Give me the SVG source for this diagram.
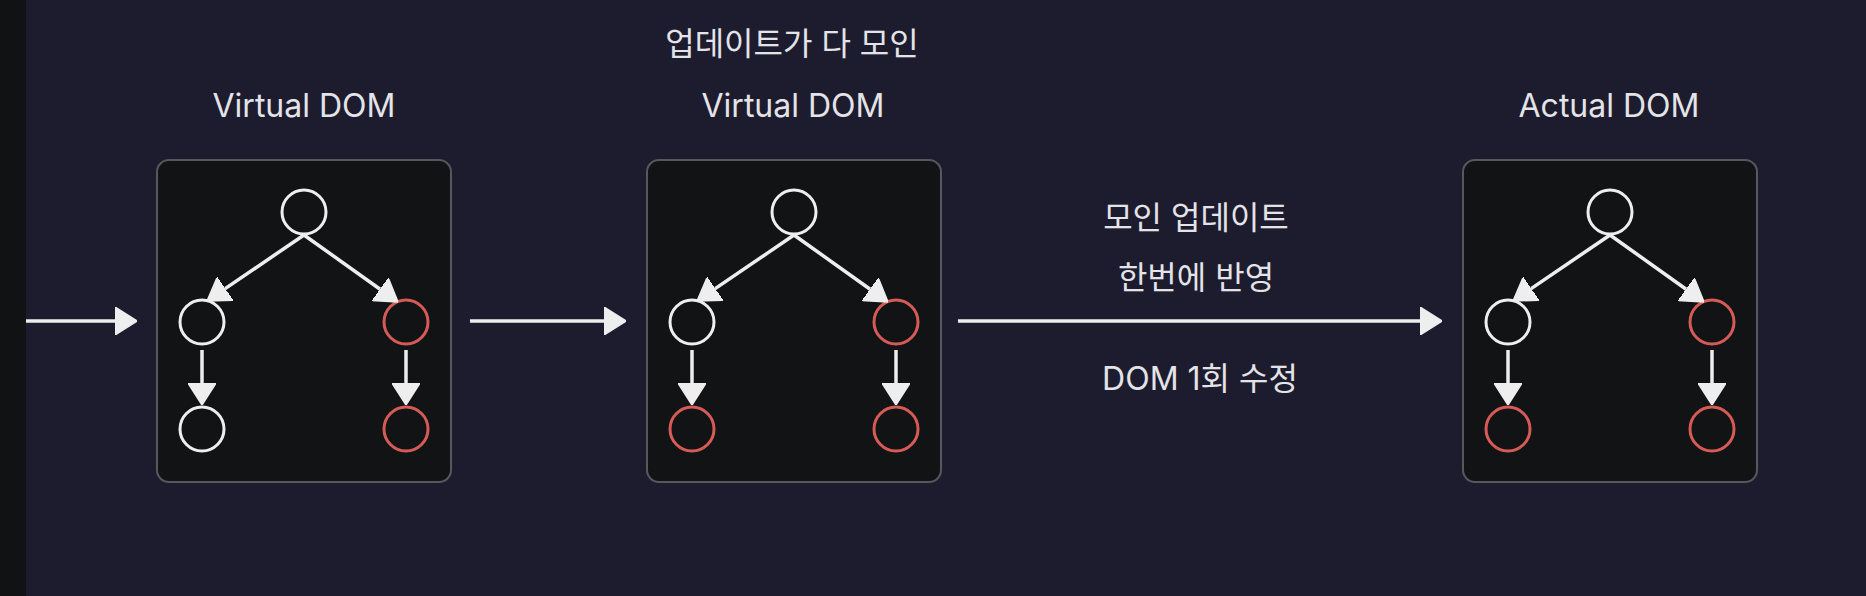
<svg xmlns="http://www.w3.org/2000/svg" width="1866" height="596" viewBox="0 0 1866 596">
  <defs>
    <style>
      .bg { fill: #1d1c2f; }
      .strip { fill: #111214; }
      .panel { fill: #111315; stroke: #57585e; stroke-width: 2; }
      .lbl { font-family: "Inter", "Noto Sans CJK KR", "Noto Sans", sans-serif; font-size: 32px; fill: #e4e4e8; text-anchor: middle; }
      .kr { font-family: "Inter", "Noto Sans CJK KR", sans-serif; font-size: 32px; fill: #e4e4e8; text-anchor: middle; }
      .n { fill: none; stroke-width: 3; }
      .w { stroke: #eeeeee; }
      .r { stroke: #d65b57; }
      .c { fill: none; stroke: #eeeeee; stroke-width: 3.5; marker-end: url(#ah); }
    </style>
    <marker id="ah" viewBox="0 0 22 28" refX="0" refY="14" markerWidth="22" markerHeight="28" markerUnits="userSpaceOnUse" orient="auto">
      <path d="M0,0 L22,14 L0,28 Z" fill="#eeeeee" stroke="#eeeeee" stroke-width="1.5" stroke-linejoin="round"/>
    </marker>
  </defs>

  <rect class="bg" x="0" y="0" width="1866" height="596"/>
  <rect class="strip" x="0" y="0" width="26" height="596"/>

  <!-- Labels -->
  <text class="lbl" x="304" y="117">Virtual DOM</text>
  <text class="kr" x="792" y="55">업데이트가 다 모인</text>
  <text class="lbl" x="793" y="117">Virtual DOM</text>
  <text class="lbl" x="1609" y="117">Actual DOM</text>
  <text class="kr" x="1196" y="229">모인 업데이트</text>
  <text class="kr" x="1196" y="289">한번에 반영</text>
  <text class="kr" x="1200" y="390">DOM 1회 수정</text>

  <!-- Panel 1: Virtual DOM -->
  <g id="panel-virtual-1" transform="translate(157,160)">
    <rect class="panel" x="0" y="0" width="294" height="322" rx="12"/>
    <g id="p1-root"><circle class="n w" cx="147" cy="52" r="22"/></g>
    <g id="p1-left"><circle class="n w" cx="45" cy="162" r="22"/></g>
    <g id="p1-right"><circle class="n r" cx="249" cy="162" r="22"/></g>
    <g id="p1-left-child"><circle class="n w" cx="45" cy="269" r="22"/></g>
    <g id="p1-right-child"><circle class="n r" cx="249" cy="269" r="22"/></g>
  </g>

  <!-- Panel 2: Virtual DOM with all updates -->
  <g id="panel-virtual-2" transform="translate(647,160)">
    <rect class="panel" x="0" y="0" width="294" height="322" rx="12"/>
    <g id="p2-root"><circle class="n w" cx="147" cy="52" r="22"/></g>
    <g id="p2-left"><circle class="n w" cx="45" cy="162" r="22"/></g>
    <g id="p2-right"><circle class="n r" cx="249" cy="162" r="22"/></g>
    <g id="p2-left-child"><circle class="n r" cx="45" cy="269" r="22"/></g>
    <g id="p2-right-child"><circle class="n r" cx="249" cy="269" r="22"/></g>
  </g>

  <!-- Panel 3: Actual DOM -->
  <g id="panel-actual" transform="translate(1463,160)">
    <rect class="panel" x="0" y="0" width="294" height="322" rx="12"/>
    <g id="p3-root"><circle class="n w" cx="147" cy="52" r="22"/></g>
    <g id="p3-left"><circle class="n w" cx="45" cy="162" r="22"/></g>
    <g id="p3-right"><circle class="n r" cx="249" cy="162" r="22"/></g>
    <g id="p3-left-child"><circle class="n r" cx="45" cy="269" r="22"/></g>
    <g id="p3-right-child"><circle class="n r" cx="249" cy="269" r="22"/></g>
  </g>

  <!-- Connectors -->
  <g id="connectors">
    <line class="c" x1="26" y1="321" x2="115" y2="321"/>
    <line class="c" x1="470" y1="321" x2="604" y2="321"/>
    <line class="c" x1="958" y1="321" x2="1420" y2="321"/>

    <g transform="translate(157,160)">
      <line class="c" x1="147" y1="75" x2="68.2" y2="128.6"/>
      <line class="c" x1="147" y1="75" x2="223.1" y2="129.2"/>
      <line class="c" x1="45" y1="190" x2="45" y2="223"/>
      <line class="c" x1="249" y1="190" x2="249" y2="223"/>
    </g>
    <g transform="translate(647,160)">
      <line class="c" x1="147" y1="75" x2="68.2" y2="128.6"/>
      <line class="c" x1="147" y1="75" x2="223.1" y2="129.2"/>
      <line class="c" x1="45" y1="190" x2="45" y2="223"/>
      <line class="c" x1="249" y1="190" x2="249" y2="223"/>
    </g>
    <g transform="translate(1463,160)">
      <line class="c" x1="147" y1="75" x2="68.2" y2="128.6"/>
      <line class="c" x1="147" y1="75" x2="223.1" y2="129.2"/>
      <line class="c" x1="45" y1="190" x2="45" y2="223"/>
      <line class="c" x1="249" y1="190" x2="249" y2="223"/>
    </g>
  </g>
</svg>
